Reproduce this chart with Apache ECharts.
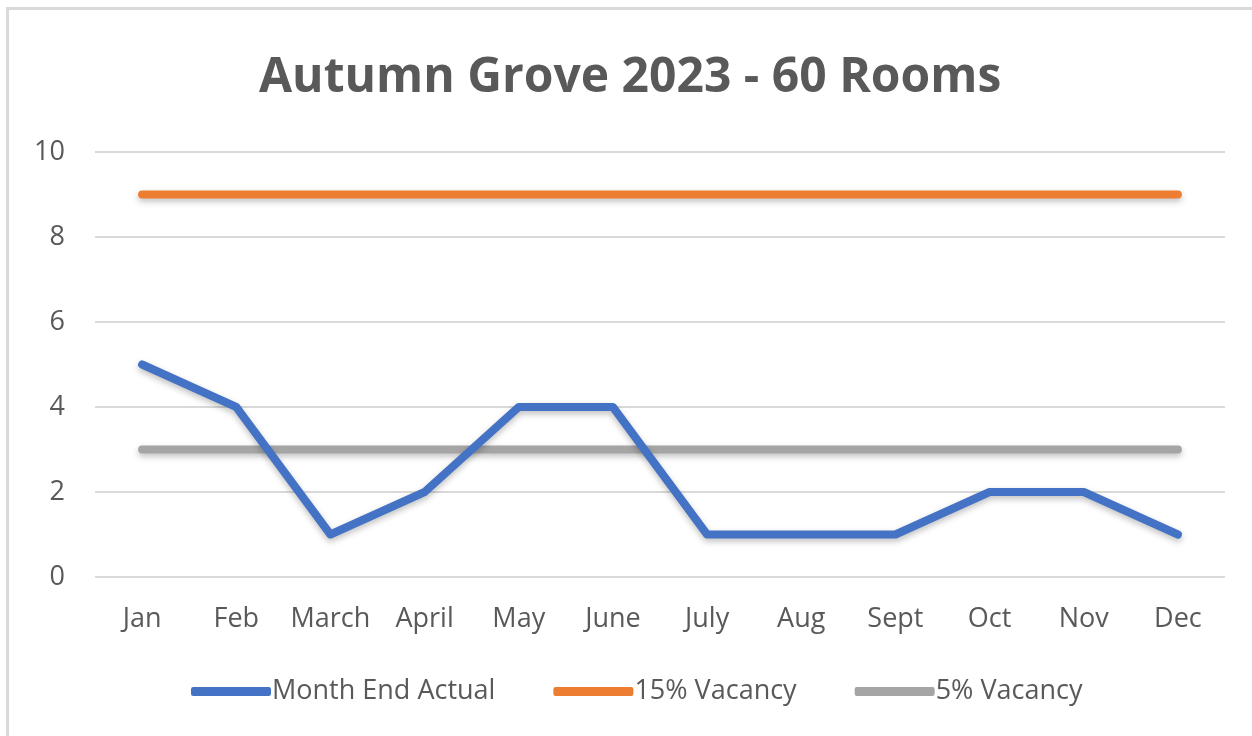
<!DOCTYPE html>
<html>
<head>
<meta charset="utf-8">
<title>Autumn Grove 2023 - 60 Rooms</title>
<script src="https://cdn.jsdelivr.net/npm/echarts@6/dist/echarts.min.js"></script>
<style>
  html, body { margin: 0; padding: 0; background: #fff; }
  .frame {
    position: absolute;
    left: 6px;
    top: 7px;
    width: 1252px;
    height: 736px;
    border-left: 3px solid #d9d9d9;
    border-top: 3px solid #d9d9d9;
  }
  #chart { position: absolute; left: 0; top: 0; width: 1252px; height: 736px; }
</style>
</head>
<body>
<div class="frame"></div>
<div id="chart"></div>
<script>
const months = ['Jan', 'Feb', 'March', 'April', 'May', 'June', 'July', 'Aug', 'Sept', 'Oct', 'Nov', 'Dec']
const monthEndActual = [5, 4, 1, 2, 4, 4, 1, 1, 1, 2, 2, 1]
const vacancy15 = [9, 9, 9, 9, 9, 9, 9, 9, 9, 9, 9, 9]
const vacancy5 = [3, 3, 3, 3, 3, 3, 3, 3, 3, 3, 3, 3]

const textColor = '#595959'
const font = 'Open Sans'

function lineSeries (name, data, color) {
  return {
    name: name,
    type: 'line',
    data: data,
    symbol: 'none',
    z: name === 'Month End Actual' ? 3 : 2,
    lineStyle: {
      color: color,
      width: 8,
      cap: 'round',
      join: 'round',
      shadowColor: 'rgba(0, 0, 0, 0.25)',
      shadowBlur: 6,
      shadowOffsetY: 3
    },
    itemStyle: { color: color }
  }
}

const chart = echarts.init(document.getElementById('chart'))
chart.setOption({
  backgroundColor: 'transparent',
  animation: false,
  title: {
    text: 'Autumn Grove 2023 - 60 Rooms',
    left: 254,
    top: 49,
    textStyle: {
      color: textColor,
      fontFamily: font,
      fontWeight: 'bold',
      fontSize: 48
    }
  },
  grid: {
    left: 95,
    right: 27,
    top: 152,
    bottom: 159,
    containLabel: false
  },
  legend: {
    bottom: 26,
    left: 186,
    itemWidth: 80,
    itemHeight: 9,
    itemGap: 58,
    icon: 'roundRect',
    textStyle: {
      color: textColor,
      fontFamily: font,
      fontSize: 27,
      padding: [0, 0, 0, -4]
    },
    data: ['Month End Actual', '15% Vacancy', '5% Vacancy']
  },
  xAxis: {
    type: 'category',
    data: months,
    boundaryGap: true,
    axisLine: { show: false },
    axisTick: { show: false },
    axisLabel: {
      color: textColor,
      fontFamily: font,
      fontSize: 27,
      margin: 29,
      interval: 0
    }
  },
  yAxis: {
    type: 'value',
    min: 0,
    max: 10,
    interval: 2,
    axisLine: { show: false },
    axisTick: { show: false },
    axisLabel: {
      color: textColor,
      fontFamily: font,
      fontSize: 27,
      margin: 30
    },
    splitLine: {
      lineStyle: { color: '#d9d9d9', width: 2 }
    }
  },
  series: [
    lineSeries('Month End Actual', monthEndActual, '#4472c4'),
    lineSeries('15% Vacancy', vacancy15, '#ed7d31'),
    lineSeries('5% Vacancy', vacancy5, '#a5a5a5')
  ]
})
</script>
</body>
</html>
